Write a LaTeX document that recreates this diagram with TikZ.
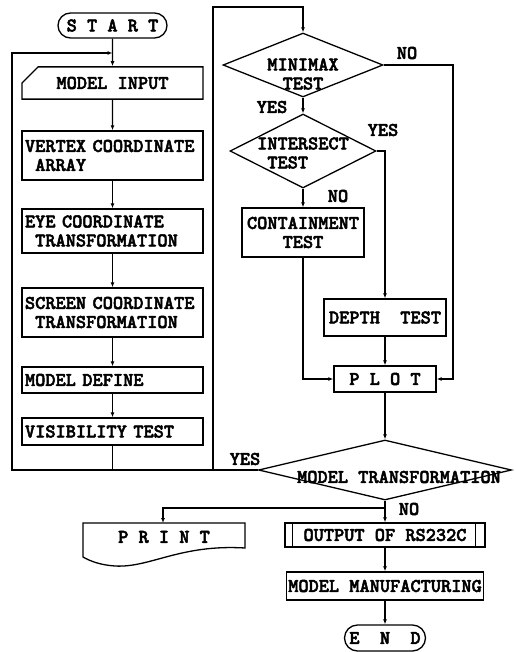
\documentclass[tikz,border=0pt]{standalone}
\usepackage{fontspec}
\newfontfamily\chartfont{lmmonolt10-bold.otf}[FakeBold=2.5]
\usetikzlibrary{arrows.meta,shapes.geometric,shapes.misc,calc}

\begin{document}
\begin{tikzpicture}[
  x=1pt, y=-1pt,
  font=\chartfont\fontsize{19.4}{19}\selectfont,
  line width=1.3pt,
  procbox/.style={draw, rectangle, minimum width=181pt, text width=175pt,
               inner xsep=3pt, inner ysep=0pt, align=left},
  cbox/.style={draw, rectangle, inner sep=0pt, align=center},
  termbox/.style={draw, rounded rectangle, inner sep=0pt},
  decision/.style={draw, diamond, inner sep=0pt},
  dlabel/.style={inner sep=0pt, align=center},
  tag/.style={inner sep=0pt},
  arr/.style={-{Latex[length=5pt,width=4pt]}}
]
\useasboundingbox (0,0) rectangle (515,652);
% left column
\node[termbox, minimum width=109pt, minimum height=25pt] (start) at (112.5,25.5) {S T A R T};
\node[draw, chamfered rectangle, chamfered rectangle corners=north west,
      chamfered rectangle xsep=14pt, chamfered rectangle ysep=10pt,
      minimum width=181pt, minimum height=32pt, inner sep=0pt] (input) at (112.5,83) {MODEL INPUT};
\node[procbox, minimum height=49pt] (vertex) at (112.5,155.5) {VERTEX COORDINATE\\\phantom{A}ARRAY};
\node[procbox, minimum height=44pt] (eye) at (112.5,231) {EYE COORDINATE\\\phantom{A}TRANSFORMATION};
\node[procbox, minimum height=49pt] (screen) at (112.5,312.5) {SCREEN COORDINATE\\\phantom{A}TRANSFORMATION};
\node[procbox, minimum height=26pt] (define) at (112.5,380) {MODEL DEFINE};
\node[procbox, minimum height=27pt] (visib) at (112.5,431.5) {VISIBILITY TEST};
\coordinate (loopin) at (112.5,53);
% right column
\node[decision, minimum width=160pt, minimum height=64pt] (minimax) at (303,65) {};
\node[dlabel] (minimaxtxt) at (303,74) {MINIMAX\\TEST};
\node[decision, minimum width=146pt, minimum height=74pt] (isect) at (303,151) {};
\node[dlabel, align=left] (isecttxt) at (303,153) {INTERSECT\\\phantom{A}TEST};
\node[cbox, minimum width=122pt, minimum height=49pt] (contain) at (303,232.5) {CONTAINMENT\\TEST};
\node[cbox, minimum width=122pt, minimum height=37pt] (depth) at (385,317.5) {DEPTH~~TEST};
\node[cbox, minimum width=102pt, minimum height=26pt] (plot) at (385,379) {P L O T};
\node[decision, minimum width=253pt, minimum height=60pt] (modtr) at (385,470) {};
\node[dlabel] (modtrtxt) at (399,477) {MODEL TRANSFORMATION};
% output part
\node[tag] (printtxt) at (164,537) {P R I N T};
\draw (83,523) -- (245,523) -- (245,548)
  .. controls (180,544) and (150,568) .. (115,566)
  .. controls (100,565) and (90,561) .. (83,557) -- cycle;
\coordinate (printtop) at (163,523);
\node[cbox, minimum width=200pt, minimum height=24pt] (rsout) at (385,535) {OUTPUT OF RS232C};
\draw ($(rsout.north west)+(8,0)$) -- ($(rsout.south west)+(8,0)$);
\draw ($(rsout.north east)+(-10,0)$) -- ($(rsout.south east)+(-10,0)$);
\node[cbox, minimum width=197pt, minimum height=28pt] (manuf) at (385,586) {MODEL MANUFACTURING};
\node[termbox, minimum width=81pt, minimum height=26pt] (finish) at (385,638) {E~~N~~D};
\coordinate (split) at (385,508);
% labels
\node[tag] (nominimax) at (407,53) {NO};
\node[tag] (yesminimax) at (272,107) {YES};
\node[tag] (yesisect) at (383,130) {YES};
\node[tag] (noisect) at (338,196) {NO};
\node[tag] (yesmodtr) at (245,459) {YES};
\node[tag] (nomodtr) at (409,509) {NO};
% connectors
\draw[arr] (start) -- (input);
\draw[arr] (modtr.west) -- (12,470) -- (12,53) -- (loopin);
\draw[arr] (input) -- (vertex);
\draw[arr] (vertex) -- (eye);
\draw[arr] (eye) -- (screen);
\draw[arr] (screen) -- (define);
\draw[arr] (define) -- (visib);
\draw[arr] (visib.south) -- ++(0,24.5) -| (213,7) -| (minimax.north);
\draw[arr] (minimax.east) -- (453,65) |- (plot.east);
\draw[arr] (minimax.south) -- (isect.north);
\draw[arr] (isect.east) -| (depth.north);
\draw[arr] (isect.south) -- (contain.north);
\draw[arr] (contain.south) |- (plot.west);
\draw[arr] (depth) -- (plot);
\draw[arr] (plot) -- (modtr.north);
\draw[arr] (modtr.south) -- (rsout.north);
\draw[arr] (split) -| (printtop);
\draw[arr] (rsout) -- (manuf);
\draw[arr] (manuf) -- (finish);
\end{tikzpicture}
\end{document}
